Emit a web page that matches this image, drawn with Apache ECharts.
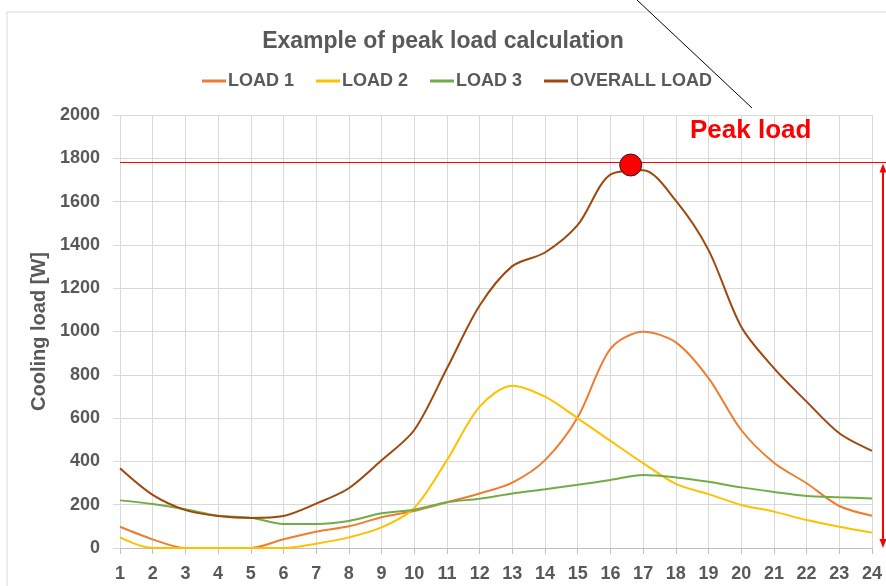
<!DOCTYPE html>
<html>
<head>
<meta charset="utf-8">
<script src="https://cdn.jsdelivr.net/npm/echarts@6/dist/echarts.min.js"></script>
<style>
  html, body { margin: 0; padding: 0; background: #fff; }
  #chart { width: 886px; height: 586px; }
</style>
</head>
<body>
<div id="chart"></div>
<script>
const hours = ['1', '2', '3', '4', '5', '6', '7', '8', '9', '10', '11', '12',
  '13', '14', '15', '16', '17', '18', '19', '20', '21', '22', '23', '24']
const load1 = [98, 40, 0, 0, 0, 40, 75, 100, 142, 171, 211, 252, 302, 406, 604, 920, 999, 950, 785, 545, 394, 299, 194, 149]
const load2 = [49, 0, 0, 0, 0, 0, 20, 49, 95, 185, 406, 653, 750, 699, 599, 495, 392, 296, 249, 199, 168, 129, 98, 71]
const load3 = [220, 203, 179, 149, 140, 111, 111, 125, 160, 177, 211, 228, 252, 271, 292, 314, 337, 326, 306, 280, 259, 240, 234, 229]
const overall = [368, 245, 175, 148, 139, 148, 205, 276, 405, 545, 830, 1120, 1302, 1365, 1492, 1725, 1745, 1604, 1376, 1022, 831, 676, 530, 449]
const peakPoint = [16.62, 1769]
const peakLevel = 1785

const FONT = '"Liberation Sans", Arial, sans-serif'
const GREY = '#595959'

const pairs = vals => vals.map((v, i) => [i + 1, v])
const lineSeries = (name, vals, color) => ({
  name,
  type: 'line',
  data: pairs(vals),
  smooth: 0.3,
  symbol: 'none',
  lineStyle: { color, width: 2 },
  itemStyle: { color },
  z: 3,
})

const chart = echarts.init(document.getElementById('chart'))
chart.setOption({
  animation: false,
  backgroundColor: '#fff',
  title: {
    text: 'Example of peak load calculation',
    left: 'center',
    top: 25,
    textStyle: { fontFamily: FONT, fontSize: 23, fontWeight: 'bold', color: GREY },
  },
  legend: {
    data: ['LOAD 1', 'LOAD 2', 'LOAD 3', 'OVERALL LOAD'],
    top: 67,
    left: 197,
    icon: 'rect',
    itemWidth: 24,
    itemHeight: 3,
    itemGap: 22,
    textStyle: { fontFamily: FONT, fontSize: 18, fontWeight: 'bold', color: GREY, padding: [0, 0, 0, -3] },
  },
  grid: { left: 120, right: 14, top: 115, bottom: 38, containLabel: false },
  xAxis: {
    type: 'value',
    min: 1,
    max: 24,
    interval: 1,
    axisLine: { show: true, onZero: false, lineStyle: { color: '#bfbfbf', width: 1 } },
    axisTick: { show: true, length: 6, lineStyle: { color: '#bfbfbf' } },
    splitLine: { show: true, lineStyle: { color: '#d9d9d9', width: 1 } },
    axisLabel: {
      margin: 17,
      fontFamily: FONT, fontSize: 18, fontWeight: 'bold', color: GREY,
      formatter: v => hours[v - 1],
    },
  },
  yAxis: {
    type: 'value',
    min: 0,
    max: 2000,
    interval: 200,
    name: 'Cooling load [W]',
    nameLocation: 'middle',
    nameGap: 68,
    nameTextStyle: { fontFamily: FONT, fontSize: 20, fontWeight: 'bold', color: GREY },
    axisLine: { show: false },
    axisTick: { show: true, length: 7, lineStyle: { color: '#d9d9d9' } },
    splitLine: { show: true, lineStyle: { color: '#d9d9d9', width: 1 } },
    axisLabel: {
      margin: 20, fontFamily: FONT, fontSize: 18, fontWeight: 'bold', color: GREY,
      formatter: v => String(v),
    },
  },
  series: [
    lineSeries('LOAD 1', load1, '#ED7D31'),
    lineSeries('LOAD 2', load2, '#FFC000'),
    lineSeries('LOAD 3', load3, '#70AD47'),
    lineSeries('OVERALL LOAD', overall, '#9E480E'),
    {
      name: 'Peak',
      type: 'scatter',
      data: [peakPoint],
      symbolSize: 22,
      itemStyle: { color: '#ff0000', borderColor: '#222', borderWidth: 1, opacity: 1 },
      z: 6,
    },
  ],
})

// annotations: peak level line, dimension arrow, label and pointer
const [x0, yRaw] = chart.convertToPixel({ xAxisIndex: 0, yAxisIndex: 0 }, [1, peakLevel])
const yPeak = Math.round(yRaw) + 0.5
const yZero = chart.convertToPixel({ yAxisIndex: 0 }, 0)
const ax = 883
chart.setOption({
  graphic: [
    { type: 'rect', shape: { x: 7, y: 12, width: 900, height: 600 }, style: { fill: 'none', stroke: '#d9d9d9', lineWidth: 1 }, z: -1, silent: true },
    { type: 'line', shape: { x1: x0, y1: yPeak, x2: 886, y2: yPeak }, style: { stroke: '#ff0000', lineWidth: 1 }, z: 5 },
    { type: 'line', shape: { x1: ax, y1: yPeak + 6, x2: ax, y2: yZero - 6 }, style: { stroke: '#ff0000', lineWidth: 2 }, z: 5 },
    { type: 'polygon', shape: { points: [[ax, yPeak + 1], [ax - 3.5, yPeak + 10], [ax + 3.5, yPeak + 10]] }, style: { fill: '#ff0000' }, z: 5 },
    { type: 'polygon', shape: { points: [[ax, yZero], [ax - 3.5, yZero - 9], [ax + 3.5, yZero - 9]] }, style: { fill: '#ff0000' }, z: 5 },
    { type: 'text', x: 690, y: 131, style: { text: 'Peak load', fill: '#ff0000', font: 'bold 26px "Liberation Sans", Arial, sans-serif', textVerticalAlign: 'middle' }, z: 5 },
    { type: 'line', shape: { x1: 637, y1: 0, x2: 752, y2: 108 }, style: { stroke: '#000', lineWidth: 1 }, z: 5 },
  ],
})
</script>
</body>
</html>
